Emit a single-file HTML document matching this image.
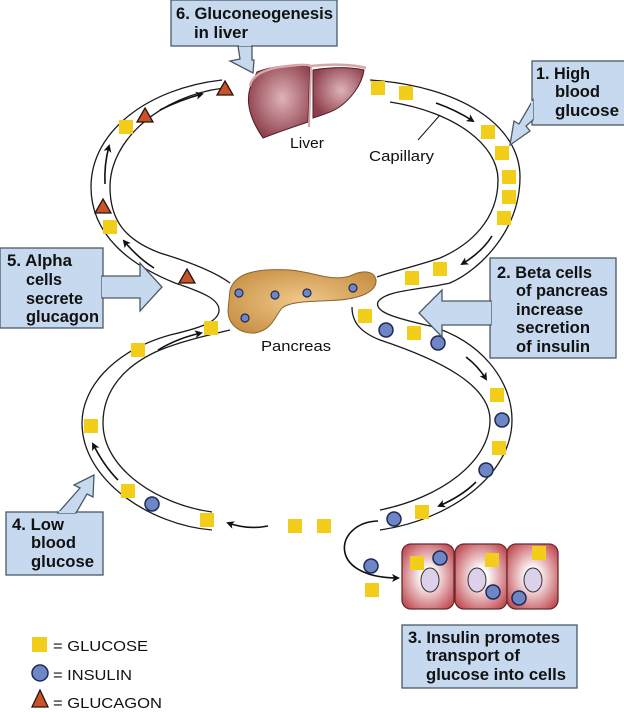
<!DOCTYPE html>
<html><head><meta charset="utf-8"><style>
html,body{margin:0;padding:0;background:#fff}
svg{display:block}
.b{font-family:"Liberation Sans Narrow","Liberation Sans",sans-serif;font-weight:bold;font-size:17px;fill:#111}
.r{font-family:"Liberation Sans Narrow","Liberation Sans",sans-serif;font-size:15px;fill:#111}
.box{fill:#c6d9ef;stroke:#4c5866;stroke-width:1.3}
.w{fill:none;stroke:#1a1a1a;stroke-width:1.3}
.ar{fill:none;stroke:#111;stroke-width:1.6}
</style></head><body>
<svg width="624" height="712" viewBox="0 0 624 712" xmlns="http://www.w3.org/2000/svg">
<defs>
<marker id="ah" markerWidth="8" markerHeight="8" refX="6" refY="4" orient="auto" markerUnits="userSpaceOnUse"><path d="M0,0 L8,4 L0,8 L2,4Z" fill="#111"/></marker>
<radialGradient id="lv" cx="0.55" cy="0.45" r="0.6"><stop offset="0" stop-color="#dfb3b8"/><stop offset="1" stop-color="#8e3f4b"/></radialGradient>
<radialGradient id="pc" cx="0.5" cy="0.5" r="0.6"><stop offset="0" stop-color="#f0c98c"/><stop offset="1" stop-color="#c99145"/></radialGradient>
<radialGradient id="cl" cx="0.5" cy="0.5" r="0.6"><stop offset="0.2" stop-color="#fff"/><stop offset="1" stop-color="#c4545c"/></radialGradient>
</defs>

<!-- tube walls -->
<path class="w" d="M222,80 C150,88 91,130 91,187 C91,235 130,265 175,283 C205,293 220,300 219,311 C218,322 200,328 170,335 C110,352 82,390 82,423 C82,480 150,525 212,530"/>
<path class="w" d="M224,88 C160,96 110,140 110,187 C110,220 125,240 160,253 C190,262 215,272 230,283"/>
<path class="w" d="M230,330 C200,337 180,342 160,350 C125,365 103,390 103,423 C103,470 160,505 212,512"/>
<path class="w" d="M370,80 C460,86 520,125 520,177 C520,230 480,270 450,283 C420,290 385,290 378,302 C374,312 395,318 430,326 C480,340 512,380 512,420 C512,475 450,520 380,530"/>
<path class="w" d="M390,102 C455,112 498,145 498,180 C498,220 470,245 440,258 C410,268 390,272 377,277"/>
<path class="w" d="M352,307 C352,322 360,332 380,340 C440,360 490,385 490,420 C490,462 440,498 380,510"/>

<!-- flow arrows -->
<path class="ar" marker-end="url(#ah)" d="M160,110 Q180,100 202,94"/>
<path class="ar" marker-end="url(#ah)" d="M105,184 Q104,165 109,146"/>
<path class="ar" marker-end="url(#ah)" d="M154,268 Q138,258 124,241"/>
<path class="ar" marker-end="url(#ah)" d="M436,103 Q456,110 473,121"/>
<path class="ar" marker-end="url(#ah)" d="M492,236 Q482,252 462,264"/>
<path class="ar" marker-end="url(#ah)" d="M158,350 Q178,338 201,333"/>
<path class="ar" marker-end="url(#ah)" d="M466,357 Q478,366 486,379"/>
<path class="ar" marker-end="url(#ah)" d="M476,482 Q462,496 439,506"/>
<path class="ar" marker-end="url(#ah)" d="M118,480 Q104,466 93,444"/>
<path class="ar" marker-end="url(#ah)" d="M268,526 Q248,530 228,523"/>
<path class="ar" marker-end="url(#ah)" d="M378,521 C335,522 325,578 398,578"/>

<!-- liver -->
<path d="M257,72 C272,66 295,64 310,67 L308,122 C290,128 276,133 263,138 C252,122 245,105 250,88 Z" fill="url(#lv)" stroke="#4a2026" stroke-width="1"/>
<path d="M313,70 C332,67 350,67 364,70 C362,85 350,100 338,108 C330,113 322,115 313,118 Z" fill="url(#lv)" stroke="#4a2026" stroke-width="1"/>
<path d="M250,86 C252,76 262,70 280,67 C295,65 305,64 311,66 C330,64 352,64 366,68" stroke="#d9a5a9" stroke-width="2.5" fill="none"/>
<path d="M311,67 L309,127" stroke="#d9a5a9" stroke-width="2" fill="none"/>
<text class="r" x="290" y="148" textLength="34" lengthAdjust="spacingAndGlyphs">Liver</text>
<line x1="418" y1="140" x2="440" y2="115" stroke="#111" stroke-width="1"/>
<text class="r" x="369" y="161" textLength="65" lengthAdjust="spacingAndGlyphs">Capillary</text>

<!-- pancreas -->
<path d="M230,290 C235,275 250,268 290,270 C315,272 330,282 350,276 C362,270 374,270 376,280 C377,292 360,298 340,300 C318,302 292,300 282,308 C274,318 272,330 255,333 C240,334 228,325 228,310 Z" fill="url(#pc)" stroke="#8a6430" stroke-width="1"/>
<g fill="#6f86c4" stroke="#1c2a55" stroke-width="1.2">
<circle cx="239" cy="293" r="4"/><circle cx="275" cy="295" r="4"/><circle cx="307" cy="293" r="4"/><circle cx="353" cy="288" r="4"/><circle cx="245" cy="318" r="4"/>
</g>
<text class="r" x="261" y="351" textLength="70" lengthAdjust="spacingAndGlyphs">Pancreas</text>

<!-- cells -->
<g stroke="#6a2a2a" stroke-width="1.3" fill="url(#cl)">
<rect x="402" y="544" width="52" height="65" rx="9"/>
<rect x="455" y="544" width="52" height="65" rx="9"/>
<rect x="507" y="544" width="51" height="65" rx="9"/>
</g>
<g fill="#dcd0ea" stroke="#333" stroke-width="1">
<ellipse cx="430" cy="580" rx="9" ry="12"/><ellipse cx="477" cy="580" rx="9" ry="12"/><ellipse cx="533" cy="580" rx="9" ry="12"/>
</g>

<!-- glucose -->
<g fill="#f2cd1a">
<rect x="371" y="81" width="14" height="14"/><rect x="399" y="86" width="14" height="14"/>
<rect x="481" y="125" width="14" height="14"/><rect x="495" y="146" width="14" height="14"/>
<rect x="502" y="170" width="14" height="14"/><rect x="502" y="190" width="14" height="14"/>
<rect x="497" y="211" width="14" height="14"/><rect x="405" y="271" width="14" height="14"/>
<rect x="433" y="262" width="14" height="14"/><rect x="358" y="309" width="14" height="14"/>
<rect x="407" y="326" width="14" height="14"/><rect x="119" y="120" width="14" height="14"/>
<rect x="103" y="220" width="14" height="14"/><rect x="204" y="321" width="14" height="14"/>
<rect x="131" y="343" width="14" height="14"/><rect x="490" y="388" width="14" height="14"/>
<rect x="492" y="441" width="14" height="14"/><rect x="415" y="505" width="14" height="14"/>
<rect x="84" y="419" width="14" height="14"/><rect x="121" y="484" width="14" height="14"/>
<rect x="200" y="513" width="14" height="14"/><rect x="288" y="519" width="14" height="14"/>
<rect x="317" y="519" width="14" height="14"/><rect x="365" y="583" width="14" height="14"/>
<rect x="410" y="556" width="14" height="14"/><rect x="485" y="553" width="14" height="14"/>
<rect x="532" y="546" width="14" height="14"/>
<rect x="32" y="637" width="15" height="15"/>
</g>
<!-- insulin -->
<g fill="#6f86c4" stroke="#1c2a55" stroke-width="1.5">
<circle cx="386" cy="330" r="7"/><circle cx="438" cy="343" r="7"/><circle cx="502" cy="420" r="7"/>
<circle cx="486" cy="470" r="7"/><circle cx="394" cy="519" r="7"/><circle cx="152" cy="504" r="7"/>
<circle cx="371" cy="566" r="7"/><circle cx="440" cy="558" r="7"/><circle cx="493" cy="592" r="7"/>
<circle cx="519" cy="598" r="7"/><circle cx="40" cy="673" r="8"/>
</g>
<!-- glucagon -->
<g fill="#c8532a" stroke="#2a1208" stroke-width="1.3">
<path d="M225,81 L233,95 L217,95Z"/><path d="M145,108 L153,122 L137,122Z"/>
<path d="M103,199 L111,213 L95,213Z"/><path d="M187,269 L195,283 L179,283Z"/>
<path d="M40,690 L48,707 L32,707Z"/>
</g>

<!-- callouts -->
<rect class="box" x="171" y="0" width="166" height="46"/>
<path class="box" d="M238,46 L252,46 L252,60 L254,60 L253,73 L230,61 L240,59 Z"/>
<line x1="239" y1="45" x2="251" y2="45" stroke="#c6d9ef" stroke-width="2"/>
<text class="b" x="176" y="19" textLength="157" lengthAdjust="spacingAndGlyphs">6. Gluconeogenesis</text>
<text class="b" x="194" y="38" textLength="54" lengthAdjust="spacingAndGlyphs">in liver</text>

<rect class="box" x="532" y="61" width="93" height="64"/>
<path class="box" d="M533,100 L533,120 L526,126 L530,131 L510,145 L514,121 L519,124 Z"/>
<line x1="532" y1="101" x2="532" y2="119" stroke="#c6d9ef" stroke-width="2"/>
<text class="b" x="536" y="79" textLength="54" lengthAdjust="spacingAndGlyphs">1. High</text>
<text class="b" x="555" y="97" textLength="45" lengthAdjust="spacingAndGlyphs">blood</text>
<text class="b" x="555" y="116" textLength="64" lengthAdjust="spacingAndGlyphs">glucose</text>

<rect class="box" x="490" y="258" width="126" height="100"/>
<path class="box" d="M491,301 L442,301 L442,290 L419,313 L442,337 L442,325 L491,325 Z"/>
<line x1="490" y1="302" x2="490" y2="324" stroke="#c6d9ef" stroke-width="2"/>
<text class="b" x="497" y="278" textLength="95" lengthAdjust="spacingAndGlyphs">2. Beta cells</text>
<text class="b" x="516" y="296" textLength="92" lengthAdjust="spacingAndGlyphs">of pancreas</text>
<text class="b" x="516" y="315" textLength="67" lengthAdjust="spacingAndGlyphs">increase</text>
<text class="b" x="516" y="333" textLength="74" lengthAdjust="spacingAndGlyphs">secretion</text>
<text class="b" x="516" y="352" textLength="74" lengthAdjust="spacingAndGlyphs">of insulin</text>

<rect class="box" x="0" y="248" width="103" height="80"/>
<path class="box" d="M102,276 L140,276 L140,263 L162,287 L140,311 L140,298 L102,298 Z"/>
<line x1="103" y1="277" x2="103" y2="297" stroke="#c6d9ef" stroke-width="2"/>
<text class="b" x="7" y="266" textLength="65" lengthAdjust="spacingAndGlyphs">5. Alpha</text>
<text class="b" x="26" y="285" textLength="36" lengthAdjust="spacingAndGlyphs">cells</text>
<text class="b" x="26" y="304" textLength="57" lengthAdjust="spacingAndGlyphs">secrete</text>
<text class="b" x="26" y="322" textLength="73" lengthAdjust="spacingAndGlyphs">glucagon</text>

<rect class="box" x="6" y="512" width="97" height="63"/>
<path class="box" d="M58,513 L76,513 L87,494 L93,497 L94,475 L74,485 L80,488 Z"/>
<line x1="59" y1="512" x2="75" y2="512" stroke="#c6d9ef" stroke-width="2"/>
<text class="b" x="12" y="530" textLength="52" lengthAdjust="spacingAndGlyphs">4. Low</text>
<text class="b" x="31" y="548" textLength="45" lengthAdjust="spacingAndGlyphs">blood</text>
<text class="b" x="31" y="567" textLength="63" lengthAdjust="spacingAndGlyphs">glucose</text>

<rect class="box" x="402" y="625" width="175" height="63"/>
<text class="b" x="408" y="643" textLength="152" lengthAdjust="spacingAndGlyphs">3. Insulin promotes</text>
<text class="b" x="426" y="661" textLength="94" lengthAdjust="spacingAndGlyphs">transport of</text>
<text class="b" x="426" y="680" textLength="140" lengthAdjust="spacingAndGlyphs">glucose into cells</text>

<!-- legend -->
<text class="r" x="53" y="651" textLength="95" lengthAdjust="spacingAndGlyphs">= GLUCOSE</text>
<text class="r" x="53" y="680" textLength="79" lengthAdjust="spacingAndGlyphs">= INSULIN</text>
<text class="r" x="53" y="708" textLength="109" lengthAdjust="spacingAndGlyphs">= GLUCAGON</text>
</svg>
</body></html>
